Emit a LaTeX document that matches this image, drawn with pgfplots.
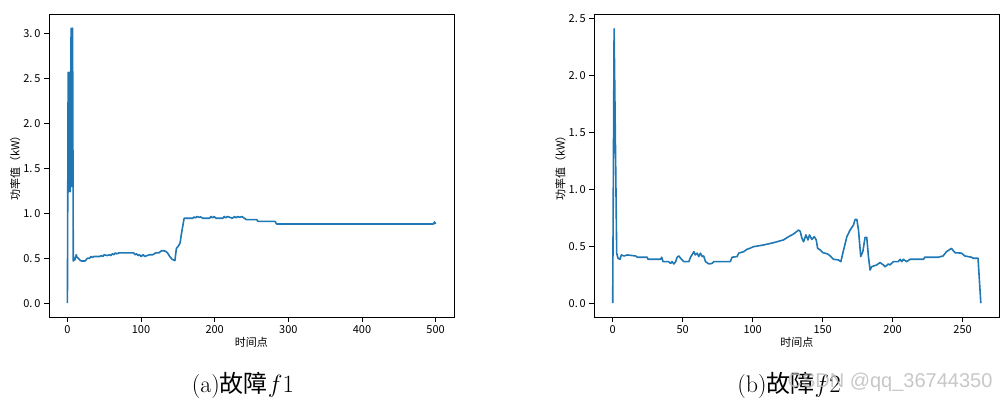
\documentclass[border=0pt]{standalone}
\usepackage{pgfplots}
\pgfplotsset{compat=1.18}
\usepackage{fontspec}
\newfontfamily\cjk{Noto Sans CJK SC}
\newfontfamily\wm{Liberation Sans}
\definecolor{mplblue}{RGB}{31,119,180}

\pgfplotsset{
  panel/.style={
    anchor=south west,
    scale only axis,
    width=405pt, height=303pt,
    axis line style={black, line width=0.8pt},
    tick align=outside,
    xtick pos=bottom, ytick pos=left,
    major tick length=5pt,
    every tick/.style={black, line width=0.8pt},
    /pgf/number format/assume math mode=true,
    ticklabel style={font=\cjk\fontsize{11}{12}\selectfont},
    label style={font=\cjk\fontsize{11}{12}\selectfont},
    xlabel={时间点},
    ylabel={功率值（kW）},
    xlabel style={yshift=3pt},
    ylabel style={yshift=-4pt},
    clip=true,
  },
  curve/.style={mplblue, line width=1.6pt, line join=round, mark=none},
}

\begin{document}
\begin{tikzpicture}[x=1pt,y=1pt]
\path[use as bounding box] (0,0) rectangle (1005,403);

%% (a) fault f1
\begin{axis}[panel, at={(49pt,86pt)},
    xmin=-25, xmax=525, ymin=-0.153, ymax=3.218,
    xtick={0,100,200,300,400,500},
    ytick={0,0.5,1,1.5,2,2.5,3},
    yticklabels={0.\,0,0.\,5,1.\,0,1.\,5,2.\,0,2.\,5,3.\,0},
]
\addplot[curve] coordinates {
(0,0)(1,2.57)(2,1.24)(3,2.57)(4,1.24)(5,3.06)(6,1.3)(7,3.06)(8,0.47)
(9,0.50)(10,0.48)(12,0.54)(13,0.51)(15,0.50)(17,0.48)(19,0.47)(24,0.47)
(26,0.49)(27,0.50)(30,0.50)(32,0.52)(34,0.51)(36,0.52)(44,0.52)(46,0.53)
(48,0.52)(50,0.54)(54,0.53)(57,0.54)(59,0.53)(61,0.55)(63,0.54)(65,0.56)
(67,0.55)(70,0.56)(90,0.56)(92,0.54)(94,0.55)(96,0.53)(98,0.54)(100,0.52)
(103,0.54)(105,0.52)(108,0.53)(112,0.54)(116,0.54)(120,0.56)(124,0.56)
(128,0.585)(133,0.58)(136,0.56)(139,0.52)(142,0.49)(146,0.475)(148,0.61)
(151,0.64)(153,0.67)(155,0.78)(158.5,0.945)(170,0.945)(172,0.96)(174,0.95)
(176,0.965)(179,0.955)(181,0.96)(184,0.945)(193,0.945)(195,0.965)(197,0.95)
(199,0.965)(202,0.945)(211,0.945)(213,0.965)(215,0.95)(217,0.965)(221,0.955)
(224,0.945)(227,0.965)(229,0.95)(231,0.965)(234,0.955)(237,0.965)(243,0.93)
(257,0.93)(259,0.91)(282,0.91)(284,0.882)(497,0.882)(498.5,0.905)(500,0.882)};
\end{axis}

%% (b) fault f2
\begin{axis}[panel, at={(594.3pt,86pt)},
    xmin=-13.15, xmax=276.2, ymin=-0.121, ymax=2.541,
    xtick={0,50,100,150,200,250},
    ytick={0,0.5,1,1.5,2,2.5},
    yticklabels={0.\,0,0.\,5,1.\,0,1.\,5,2.\,0,2.\,5},
]
\addplot[curve] coordinates {
(0,0)(1,2.41)(2.85,0.44)(3.8,0.395)(5.2,0.386)(6.2,0.424)(8,0.415)(10.5,0.424)
(16.4,0.415)(17.6,0.404)(24.7,0.404)(25.2,0.386)(34.2,0.386)(35,0.404)(36,0.365)
(40,0.365)(41.3,0.35)(42.5,0.365)(43.7,0.345)(45,0.365)(46,0.404)(47.3,0.415)
(48.5,0.395)(50.8,0.365)(54.4,0.365)(55.6,0.404)(58,0.453)(59,0.424)(60.3,0.44)
(61.5,0.41)(62.7,0.44)(64,0.41)(65,0.415)(66.3,0.365)(68.7,0.345)(71,0.35)
(72.2,0.365)(84,0.365)(85.3,0.404)(88.9,0.41)(90,0.44)(93.6,0.453)(96,0.474)
(97.9,0.482)(100.7,0.497)(107.9,0.512)(115,0.532)(122,0.556)(125.7,0.585)
(129.2,0.608)(132.8,0.643)(134,0.63)(135.2,0.57)(136.4,0.54)(138,0.6)
(139.5,0.556)(140.6,0.6)(142.3,0.56)(144,0.585)(145.4,0.556)(146.4,0.482)
(148.3,0.468)(150.2,0.444)(153.5,0.433)(155.9,0.41)(157.8,0.386)(161.3,0.38)
(163,0.365)(164.4,0.44)(167.3,0.585)(169.6,0.643)(172,0.687)(173.2,0.737)
(174.4,0.737)(175.6,0.643)(177.2,0.41)(178.7,0.453)(180.3,0.579)(181.5,0.579)
(182.7,0.41)(183.9,0.292)(185,0.32)(186.3,0.327)(188.6,0.336)(191,0.357)
(193.4,0.336)(194.6,0.32)(197,0.345)(198,0.336)(200.5,0.365)(204,0.365)
(205.3,0.386)(206.5,0.365)(207.6,0.386)(210,0.365)(212.4,0.386)(222,0.386)
(223,0.404)(232.6,0.404)(236,0.415)(238.5,0.453)(242,0.482)(244.5,0.444)
(249.2,0.44)(251.6,0.415)(256.4,0.404)(257.5,0.395)(261,0.395)(263,0)};
\end{axis}

%% captions
\node[font=\fontsize{24}{28}\selectfont] at (243,18) {(a){\cjk 故障}$f1$};
\node[font=\fontsize{24}{28}\selectfont] at (789,18) {(b){\cjk 故障}$f2$};
\node[font=\wm\fontsize{20}{24}\selectfont, text=gray!55, opacity=0.8] at (890,21) {CSDN @qq\_36744350};
\end{tikzpicture}
\end{document}
